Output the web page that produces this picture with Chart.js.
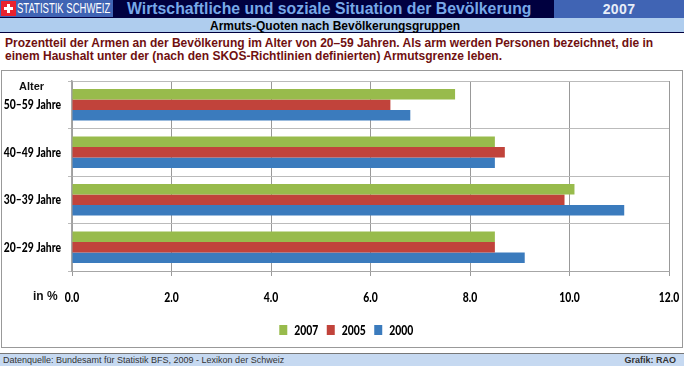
<!DOCTYPE html>
<html>
<head>
<meta charset="utf-8">
<script src="https://cdn.jsdelivr.net/npm/chart.js@4"></script>
<style>
html, body { margin: 0; padding: 0; background: #fff; }
body { position: relative; width: 684px; height: 366px; overflow: hidden; font-family: "Liberation Sans", Arial, sans-serif; }
div, span { position: absolute; white-space: nowrap; }
#top { left: 0; top: 0; width: 684px; height: 18px; background: #00003f; }
#logo { left: 0; top: 0; width: 113px; height: 17px; background: #4064b4; }
#flag { left: 1px; top: 1px; width: 15px; height: 15px; background: #e8222e; }
#flag i { position: absolute; background: #fff; }
#brand { left: 17px; top: 0; font: 14px/17px "Liberation Sans", sans-serif; color: #fff; transform: scaleX(0.68); transform-origin: left top; }
#title { left: 127px; top: 0; font: bold 15.8px/18px "Liberation Sans", Arial, sans-serif; color: #77a8e8; }
#yearbox { left: 554px; top: 0; width: 130px; height: 18px; background: #4064b4; color: #e8eef8; font: bold 14px/18px "Liberation Sans", Arial, sans-serif; text-align: center; letter-spacing: 0.4px; }
#sub { left: 0; top: 18px; width: 684px; height: 14px; background: #afcdee; border-bottom: 1px solid #00003f; }
#subtext { left: 210px; top: 1px; color: #000; font: bold 12px/14px "Liberation Sans", Arial, sans-serif; }
#intro { left: 5px; top: 37px; color: #701010; font: bold 12px/13px "Liberation Sans", Arial, sans-serif; }
#box { left: 1px; top: 70px; width: 680px; height: 276px; border: 1px solid #999; }
#wrap { left: 0; top: 70px; width: 684px; height: 277px; }
#alter { left: 19px; top: 79px; font: bold 11px/14px "Liberation Sans", Arial, sans-serif; color: #111; }
#inp { left: 33px; top: 289px; font: bold 12px/14px "Liberation Sans", Arial, sans-serif; color: #111; }
#foot { left: 0; top: 353px; width: 684px; height: 12px; background: #c6d9f1; border-top: 1px solid #777; font: 9px/13px "Liberation Sans", Arial, sans-serif; color: #333; }
#src { left: 3px; top: 0; }
#grafik { right: 8px; top: 0; font-weight: bold; }
</style>
</head>
<body>
<div id="top"></div>
<div id="logo"></div>
<div id="flag"><i style="left:6px;top:3px;width:3px;height:9px"></i><i style="left:3px;top:6px;width:9px;height:3px"></i></div>
<div id="brand">STATISTIK SCHWEIZ</div>
<div id="title">Wirtschaftliche und soziale Situation der Bevölkerung</div>
<div id="yearbox">2007</div>
<div id="sub"><span id="subtext">Armuts-Quoten nach Bevölkerungsgruppen</span></div>
<div id="intro">Prozentteil der Armen an der Bevölkerung im Alter von 20–59 Jahren. Als arm werden Personen bezeichnet, die in<br>einem Haushalt unter der (nach den SKOS-Richtlinien definierten) Armutsgrenze leben.</div>
<div id="box"></div>
<div id="wrap"><canvas id="chart" width="684" height="277"></canvas></div>
<div id="alter">Alter</div>
<div id="inp">in %</div>
<div id="foot"><span id="src">Datenquelle: Bundesamt für Statistik BFS, 2009 - Lexikon der Schweiz</span><span id="grafik">Grafik: RAO</span></div>

<script>
// Armuts-Quoten, Werte
const categories = ['50–59 Jahre', '40–49 Jahre', '30–39 Jahre', '20–29 Jahre'];
const values2007 = [7.7, 8.5, 10.1, 8.5];
const values2005 = [6.4, 8.7, 9.9, 8.5];
const values2000 = [6.8, 8.5, 11.1, 9.1];
const xTicks = [0, 2, 4, 6, 8, 10, 12];

const labelFont = { family: 'Lato, sans-serif', weight: '900', size: 14 };

function bars(label, data, color) {
    return { label: label, data: data, backgroundColor: color, categoryPercentage: 0.66, barPercentage: 1 };
}

const ctx = document.getElementById('chart').getContext('2d');

// Schrift im Original ist schmal und es gibt hier keine Condensed-Schrift,
// darum jeden Text horizontal stauchen
const drawText = ctx.fillText.bind(ctx);
ctx.fillText = (text, x, y) => {
    ctx.save();
    ctx.translate(x, y);
    ctx.scale(0.74, 1);
    drawText(text, 0, 0);
    ctx.restore();
};

// Legende sitzt im Original etwas rechts der Mitte
const moveLegend = {
    id: 'moveLegend',
    afterLayout: chart => { chart.legend.left += 16; chart.legend.right += 16; }
};

new Chart(ctx, {
    type: 'bar',
    plugins: [moveLegend],
    data: {
        labels: categories,
        datasets: [
            bars('2007', values2007, '#98bb4c'),
            bars('2005', values2005, '#c1433b'),
            bars('2000', values2000, '#3b7bbd')
        ]
    },
    options: {
        indexAxis: 'y',
        responsive: false,
        animation: false,
        layout: { padding: { top: 11, right: 15, bottom: 0, left: 0 } },
        plugins: {
            tooltip: { enabled: false },
            legend: {
                position: 'bottom',
                labels: { font: labelFont, color: '#000', boxWidth: 8, boxHeight: 10, padding: 0 }
            }
        },
        scales: {
            x: {
                min: 0,
                max: 12,
                afterBuildTicks: axis => { axis.ticks = xTicks.map(v => ({ value: v })); },
                afterFit: axis => { axis.height = 52; axis.paddingLeft = 0; axis.paddingRight = 0; },
                grid: { color: '#999', tickLength: 5 },
                border: { color: '#a6a6a6' },
                ticks: { font: labelFont, color: '#000', padding: 13, maxRotation: 0, callback: v => v.toFixed(1) }
            },
            y: {
                afterFit: axis => { axis.width = 72; axis.paddingTop = 0; axis.paddingBottom = 0; },
                grid: { color: '#bbb', tickLength: 4 },
                border: { color: '#a6a6a6', width: 1.5 },
                ticks: { font: labelFont, color: '#000', padding: 7 }
            }
        }
    }
});
</script>
</body>
</html>
